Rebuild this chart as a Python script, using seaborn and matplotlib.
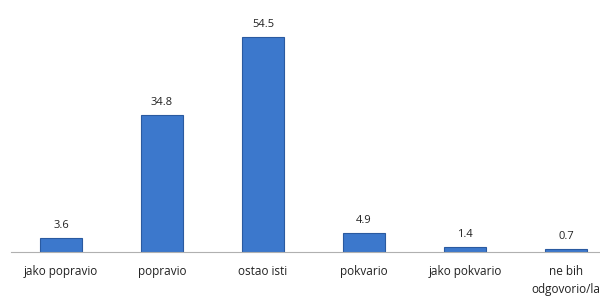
import matplotlib
matplotlib.use("Agg")
import matplotlib.pyplot as plt
import seaborn as sns
import pandas as pd

categories = ["jako popravio", "popravio", "ostao isti", "pokvario", "jako pokvario", "ne bih\nodgovorio/la"]
values = [3.6, 34.8, 54.5, 4.9, 1.4, 0.7]

sns.set_theme(style="white")
plt.rcParams['font.family'] = ['Open Sans', 'DejaVu Sans']

df = pd.DataFrame({"cat": categories, "val": values})

fig = plt.figure(figsize=(6, 2.98), dpi=100)
ax = fig.add_axes([0.0175, 0.154, 1.01, 0.794])
sns.barplot(data=df, x="cat", y="val", ax=ax, color="#3c78cc", width=0.42,
            edgecolor="#2a5aa0", linewidth=0.8, saturation=1)
ax.set_ylim(0, 60)
ax.set_xlim(-0.5, len(categories) - 0.5)
ax.set_xlabel("")
ax.set_ylabel("")
ax.set_yticks([])
for s in ["top", "right", "left"]:
    ax.spines[s].set_visible(False)
ax.spines["bottom"].set_color("#b0b0b0")
ax.spines["bottom"].set_linewidth(0.8)
ax.tick_params(axis="x", length=0, pad=9, labelsize=8.5, colors="#222222")
for lbl in ax.get_xticklabels():
    lbl.set_linespacing(1.5)
for i, v in enumerate(values):
    ax.annotate(f"{v}", (i, v), xytext=(0, 5), textcoords="offset points",
                ha="center", va="bottom", fontsize=8, color="#222222")
fig.savefig("out.png", dpi=100)
